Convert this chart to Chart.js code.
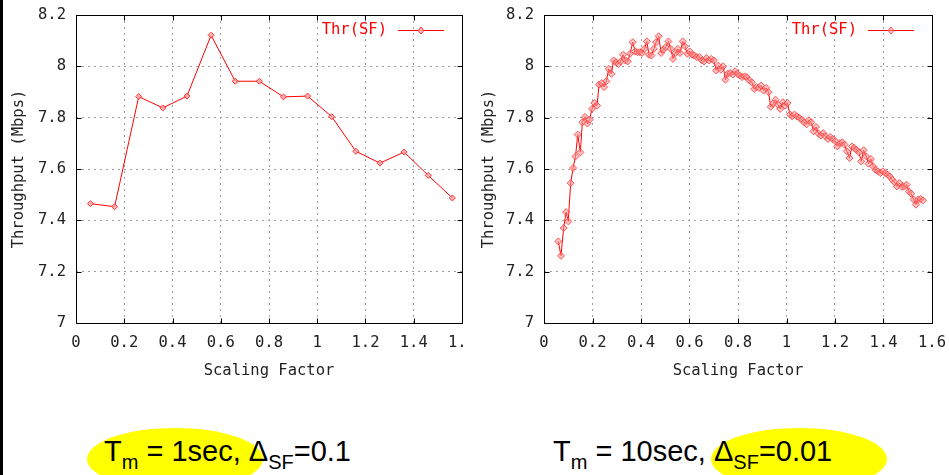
<!DOCTYPE html>
<html>
<head>
<meta charset="utf-8">
<script src="https://cdn.jsdelivr.net/npm/chart.js@4/dist/chart.umd.min.js"></script>
<style>
  body { margin: 0; background: #fff; }
  #page { position: relative; width: 949px; height: 475px; overflow: hidden; background: #fff; }
  .box { position: absolute; top: 0; height: 395px; }
  .strip { position: absolute; left: 0; top: 0; width: 3px; height: 475px; background: #000; z-index: 5; }
  .blob { position: absolute; background: #ffff00; border-radius: 50%; }
  .cap { position: absolute; font-family: "Liberation Sans", Arial, sans-serif; font-size: 29px; line-height: 29px; color: #000; white-space: nowrap; }
  .cap .sub { font-size: 20px; position: relative; top: 8px; line-height: 0; }
</style>
</head>
<body>
<div id="page">
  <div class="strip"></div>
  <div class="blob" style="left:87px; top:428px; width:176px; height:62px;"></div>
  <div class="blob" style="left:711px; top:428px; width:176px; height:62px;"></div>
  <div class="box" style="left:0; width:467px;"><canvas id="c1" width="467" height="395"></canvas></div>
  <div class="box" style="left:470px; width:479px;"><canvas id="c2" width="479" height="395"></canvas></div>
  <div class="cap" style="left:104px; top:437px;">T<span class="sub">m</span> = 1sec, &Delta;<span class="sub">SF</span>=0.1</div>
  <div class="cap" style="left:553px; top:437px;">T<span class="sub">m</span> = 10sec, &Delta;<span class="sub">SF</span>=0.01</div>
</div>
<script>
// Tm = 1 sec, step 0.1
const sfCoarse = [0.06, 0.16, 0.26, 0.36, 0.46, 0.56, 0.66, 0.76, 0.86, 0.96, 1.06, 1.16, 1.26, 1.36, 1.46, 1.56];
const thrCoarse = [7.465, 7.453, 7.882, 7.838, 7.884, 8.121, 7.942, 7.942, 7.881, 7.884, 7.804, 7.669, 7.623, 7.666, 7.575, 7.487];

// Tm = 10 sec, step 0.01
const sfFine = [0.059, 0.070, 0.081, 0.091, 0.100, 0.110, 0.120, 0.130, 0.139, 0.150,
  0.158, 0.169, 0.179, 0.188, 0.198, 0.208, 0.219, 0.227, 0.238, 0.248,
  0.257, 0.267, 0.278, 0.287, 0.297, 0.307, 0.316, 0.326, 0.336, 0.345,
  0.355, 0.366, 0.376, 0.385, 0.395, 0.404, 0.414, 0.424, 0.433, 0.443,
  0.453, 0.462, 0.473, 0.483, 0.492, 0.502, 0.513, 0.523, 0.532, 0.542,
  0.552, 0.561, 0.572, 0.582, 0.591, 0.601, 0.611, 0.620, 0.630, 0.641,
  0.651, 0.660, 0.670, 0.680, 0.690, 0.700, 0.710, 0.719, 0.729, 0.739,
  0.748, 0.758, 0.768, 0.779, 0.788, 0.798, 0.807, 0.817, 0.827, 0.836,
  0.847, 0.857, 0.867, 0.876, 0.886, 0.895, 0.905, 0.916, 0.926, 0.935,
  0.945, 0.955, 0.964, 0.974, 0.985, 0.994, 1.004, 1.014, 1.023, 1.033,
  1.043, 1.054, 1.063, 1.073, 1.083, 1.092, 1.102, 1.111, 1.122, 1.132,
  1.142, 1.151, 1.161, 1.171, 1.180, 1.191, 1.201, 1.210, 1.220, 1.230,
  1.239, 1.249, 1.260, 1.270, 1.279, 1.289, 1.299, 1.308, 1.318, 1.329,
  1.338, 1.348, 1.358, 1.367, 1.377, 1.387, 1.398, 1.407, 1.417, 1.426,
  1.436, 1.446, 1.455, 1.466, 1.476, 1.486, 1.495, 1.505, 1.514, 1.524,
  1.534, 1.543, 1.553, 1.563];
const thrFine = [7.318, 7.262, 7.370, 7.432, 7.396, 7.545, 7.604, 7.649, 7.734, 7.665,
  7.782, 7.803, 7.777, 7.792, 7.834, 7.857, 7.847, 7.929, 7.935, 7.919,
  7.942, 7.990, 7.971, 8.023, 8.016, 8.009, 8.019, 8.045, 8.023, 8.019,
  8.049, 8.094, 8.058, 8.055, 8.055, 8.052, 8.068, 8.097, 8.045, 8.042,
  8.068, 8.094, 8.117, 8.052, 8.065, 8.075, 8.097, 8.068, 8.029, 8.052,
  8.068, 8.052, 8.097, 8.078, 8.049, 8.058, 8.045, 8.042, 8.036, 8.036,
  8.023, 8.019, 8.032, 8.023, 8.029, 8.023, 7.984, 8.003, 7.987, 8.000,
  7.948, 7.971, 7.974, 7.968, 7.981, 7.971, 7.964, 7.958, 7.961, 7.958,
  7.945, 7.938, 7.912, 7.919, 7.916, 7.925, 7.906, 7.916, 7.899, 7.842,
  7.855, 7.870, 7.851, 7.834, 7.860, 7.847, 7.857, 7.812, 7.805, 7.812,
  7.805, 7.799, 7.792, 7.782, 7.774, 7.790, 7.782, 7.747, 7.764, 7.738,
  7.730, 7.740, 7.727, 7.717, 7.725, 7.717, 7.708, 7.688, 7.701, 7.704,
  7.695, 7.669, 7.643, 7.688, 7.682, 7.675, 7.665, 7.630, 7.673, 7.649,
  7.621, 7.639, 7.610, 7.597, 7.591, 7.584, 7.591, 7.584, 7.578, 7.571,
  7.558, 7.548, 7.532, 7.545, 7.530, 7.532, 7.539, 7.513, 7.504, 7.481,
  7.461, 7.481, 7.483, 7.478];

const seriesName = 'Thr(SF)';
const xTitle = 'Scaling Factor';
const yTitle = 'Throughput (Mbps)';

const mono = { family: '"DejaVu Sans Mono", monospace', size: 15.5 };
const textColor = '#222';
// gnuplot prints 1 and 8, not 1.0 / 8.0
const fmt = v => String(Math.round(v * 10) / 10);

// black frame, inward mirror ticks and the gnuplot-style key
const gnuplotBits = {
  id: 'gnuplotBits',
  afterDraw(chart) {
    const { ctx, chartArea: a, scales: { x, y } } = chart;
    const L = Math.round(a.left) + 0.5, R = Math.round(a.right) + 0.5;
    const T = Math.round(a.top) + 0.5, B = Math.round(a.bottom) + 0.5;
    ctx.save();
    ctx.strokeStyle = '#000';
    ctx.lineWidth = 1;
    ctx.beginPath();
    y.ticks.forEach(t => {
      const py = Math.round(y.getPixelForValue(t.value)) + 0.5;
      ctx.moveTo(L, py); ctx.lineTo(L + 5, py);
      ctx.moveTo(R - 5, py); ctx.lineTo(R, py);
    });
    x.ticks.forEach(t => {
      const px = Math.round(x.getPixelForValue(t.value)) + 0.5;
      ctx.moveTo(px, B); ctx.lineTo(px, B - 5);
      ctx.moveTo(px, T); ctx.lineTo(px, T + 5);
    });
    ctx.rect(L, T, R - L, B - T);
    ctx.stroke();

    // key
    const ds = chart.data.datasets[0];
    const ky = 30;
    ctx.font = mono.size + 'px ' + mono.family;
    ctx.fillStyle = '#ff0000';
    ctx.textAlign = 'right';
    ctx.textBaseline = 'middle';
    ctx.fillText(ds.label, a.right - 75, ky);
    ctx.strokeStyle = ds.borderColor;
    ctx.beginPath();
    ctx.moveTo(a.right - 64, ky + 0.5);
    ctx.lineTo(a.right - 18, ky + 0.5);
    ctx.stroke();
    ctx.fillStyle = ds.pointBackgroundColor;
    ctx.strokeStyle = ds.pointBorderColor;
    ctx.beginPath();
    ctx.moveTo(a.right - 41, ky - 3); ctx.lineTo(a.right - 38, ky + 0.5);
    ctx.lineTo(a.right - 41, ky + 4); ctx.lineTo(a.right - 44, ky + 0.5);
    ctx.closePath();
    ctx.fill(); ctx.stroke();
    ctx.restore();
  }
};

function makeChart(id, xs, ys, yWidth, padRight, pointR, pointFill, pointEdge) {
  const pts = xs.map((v, i) => ({ x: v, y: ys[i] }));
  return new Chart(document.getElementById(id), {
    type: 'line',
    data: {
      datasets: [{
        label: seriesName,
        data: pts,
        borderColor: '#ff0000',
        borderWidth: 1,
        pointStyle: 'rectRot',
        pointRadius: pointR,
        pointBorderWidth: 1,
        pointBackgroundColor: pointFill,
        pointBorderColor: pointEdge,
        tension: 0
      }]
    },
    options: {
      responsive: false,
      animation: false,
      devicePixelRatio: 1,
      layout: { padding: { left: 0, right: padRight, top: 15, bottom: 0 } },
      plugins: { legend: { display: false }, tooltip: { enabled: false } },
      scales: {
        x: {
          type: 'linear', min: 0, max: 1.6,
          afterFit: s => { s.height = 72; s.paddingLeft = 0; s.paddingRight = 0; },
          grid: { color: '#a0a0a0', drawTicks: false },
          border: { display: false, dash: [2, 4] },
          ticks: { stepSize: 0.2, autoSkip: false, maxRotation: 0, padding: 11, font: mono, color: textColor, callback: fmt },
          title: { display: true, text: xTitle, font: mono, color: textColor, padding: { top: 0, bottom: 15 } }
        },
        y: {
          min: 7, max: 8.2,
          afterFit: s => { s.width = yWidth; s.paddingTop = 0; s.paddingBottom = 0; },
          grid: { color: '#a0a0a0', drawTicks: false },
          border: { display: false, dash: [2, 4] },
          ticks: { stepSize: 0.2, padding: 10, font: mono, color: textColor, callback: fmt },
          title: { display: true, text: yTitle, font: mono, color: textColor, padding: { top: 10, bottom: 0 } }
        }
      }
    },
    plugins: [gnuplotBits]
  });
}

makeChart('c1', sfCoarse, thrCoarse, 76, 4, 3, 'rgba(255,170,170,0.8)', '#ff3030');
makeChart('c2', sfFine, thrFine, 74, 17, 3.5, 'rgba(255,150,150,0.55)', 'rgba(255,60,60,0.85)');
</script>
</body>
</html>
